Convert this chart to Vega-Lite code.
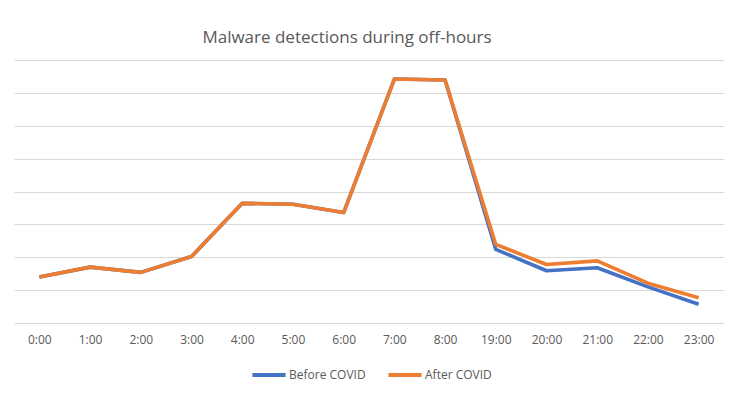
{
  "$schema": "https://vega.github.io/schema/vega-lite/v6.json",
  "width": 710,
  "height": 263,
  "autosize": {"type": "none"},
  "padding": {"left": 14, "top": 60, "right": 18, "bottom": 75},
  "background": "white",
  "title": {
    "text": "Malware detections during off-hours",
    "font": "Open Sans",
    "fontSize": 17,
    "fontWeight": "normal",
    "color": "#595959",
    "anchor": "middle",
    "dx": -22,
    "offset": 13
  },
  "data": {
    "values": [
      {"hour": "0:00", "series": "Before COVID", "value": 1.40},
      {"hour": "1:00", "series": "Before COVID", "value": 1.70},
      {"hour": "2:00", "series": "Before COVID", "value": 1.54},
      {"hour": "3:00", "series": "Before COVID", "value": 2.02},
      {"hour": "4:00", "series": "Before COVID", "value": 3.64},
      {"hour": "5:00", "series": "Before COVID", "value": 3.61},
      {"hour": "6:00", "series": "Before COVID", "value": 3.36},
      {"hour": "7:00", "series": "Before COVID", "value": 7.42},
      {"hour": "8:00", "series": "Before COVID", "value": 7.39},
      {"hour": "19:00", "series": "Before COVID", "value": 2.24},
      {"hour": "20:00", "series": "Before COVID", "value": 1.59},
      {"hour": "21:00", "series": "Before COVID", "value": 1.68},
      {"hour": "22:00", "series": "Before COVID", "value": 1.10},
      {"hour": "23:00", "series": "Before COVID", "value": 0.57},
      {"hour": "0:00", "series": "After COVID", "value": 1.40},
      {"hour": "1:00", "series": "After COVID", "value": 1.70},
      {"hour": "2:00", "series": "After COVID", "value": 1.54},
      {"hour": "3:00", "series": "After COVID", "value": 2.02},
      {"hour": "4:00", "series": "After COVID", "value": 3.64},
      {"hour": "5:00", "series": "After COVID", "value": 3.61},
      {"hour": "6:00", "series": "After COVID", "value": 3.36},
      {"hour": "7:00", "series": "After COVID", "value": 7.42},
      {"hour": "8:00", "series": "After COVID", "value": 7.39},
      {"hour": "19:00", "series": "After COVID", "value": 2.39},
      {"hour": "20:00", "series": "After COVID", "value": 1.78},
      {"hour": "21:00", "series": "After COVID", "value": 1.89},
      {"hour": "22:00", "series": "After COVID", "value": 1.21},
      {"hour": "23:00", "series": "After COVID", "value": 0.77}
    ]
  },
  "mark": {"type": "line", "strokeWidth": 3.6, "strokeJoin": "round", "strokeCap": "butt"},
  "encoding": {
    "x": {
      "field": "hour",
      "type": "ordinal",
      "sort": null,
      "scale": {"paddingInner": 0, "paddingOuter": 0.5},
      "axis": {
        "title": null,
        "labelAngle": 0,
        "ticks": false,
        "domain": false,
        "grid": false,
        "labelFont": "Open Sans",
        "labelFontSize": 12,
        "labelColor": "#595959",
        "labelPadding": 11
      }
    },
    "y": {
      "field": "value",
      "type": "quantitative",
      "scale": {"domain": [0, 8], "nice": false, "zero": true},
      "axis": {
        "title": null,
        "labels": false,
        "ticks": false,
        "domain": false,
        "values": [0, 1, 2, 3, 4, 5, 6, 7, 8],
        "grid": true,
        "gridColor": "#d9d9d9",
        "gridWidth": 1
      }
    },
    "color": {
      "field": "series",
      "type": "nominal",
      "scale": {"domain": ["Before COVID", "After COVID"], "range": ["#4472C4", "#ED7D31"]},
      "legend": {
        "title": null,
        "orient": "none",
        "direction": "horizontal",
        "legendX": 236,
        "legendY": 296,
        "symbolType": "stroke",
        "symbolStrokeWidth": 4,
        "symbolSize": 1100,
        "labelFont": "Open Sans",
        "labelFontSize": 12,
        "labelColor": "#595959",
        "columnPadding": 14,
        "labelOffset": 1
      }
    }
  },
  "config": {"view": {"stroke": null}}
}
